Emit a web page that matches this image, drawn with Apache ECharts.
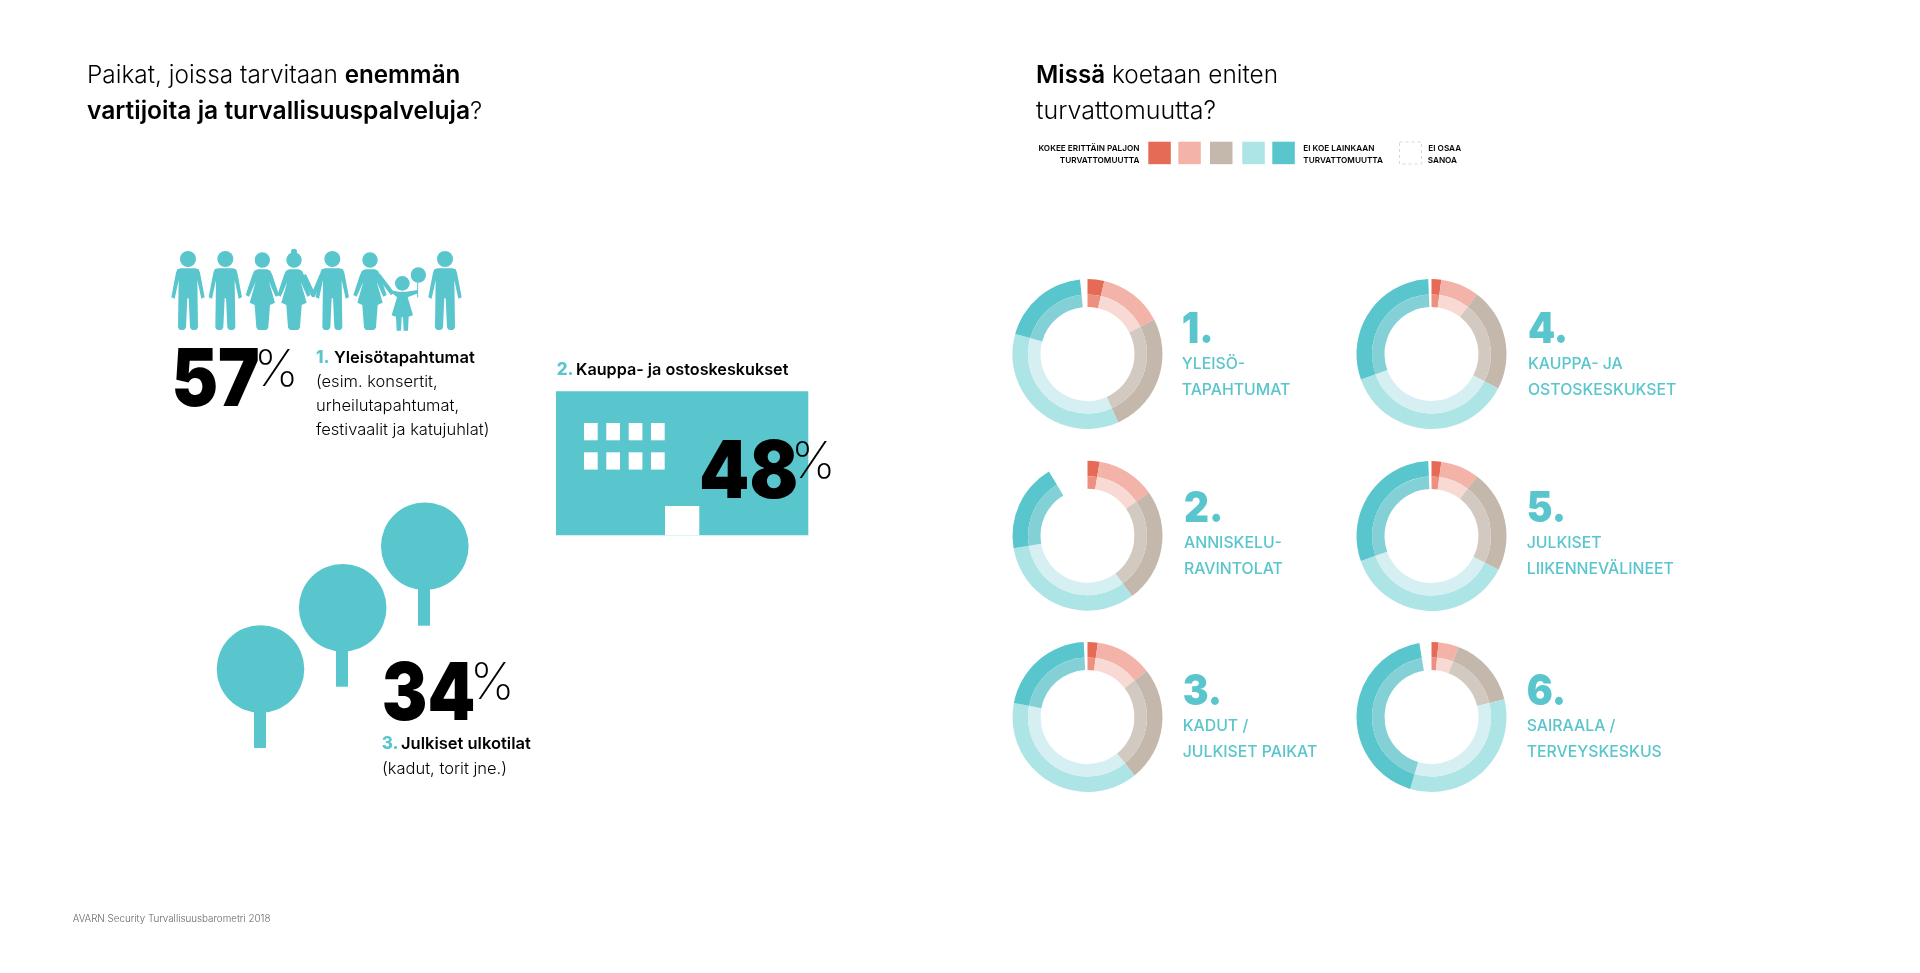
<!DOCTYPE html>
<html>
<head>
<meta charset="utf-8">
<title>Turvallisuusbarometri</title>
<script src="https://cdn.jsdelivr.net/npm/echarts@6/dist/echarts.min.js"></script>
<style>
  html, body { margin: 0; padding: 0; background: #fff; }
  #main { width: 1920px; height: 973px; }
</style>
</head>
<body>
<div id="main"></div>
<script>
// answer scale, from "very much" to "not at all", last one is "ei osaa sanoa"
const levels = ["Kokee erittäin paljon", "Paljon", "Jonkin verran", "Vähän", "Ei lainkaan", "Ei osaa sanoa"];
const outerColors = ["#e66b56", "#f4b3a8", "#c3b8ab", "#ade4e5", "#59c5cc", "rgba(0,0,0,0)"];
const innerColors = ["#ee9080", "#f8d9d3", "#d2c9c0", "#d5eff2", "#83d1d7", "rgba(0,0,0,0)"];

const yleiso = [3.6, 13.8, 25.9, 36.0, 19.1, 1.6];
const anniskelu = [2.6, 12.7, 24.6, 32.4, 19.1, 8.6];
const kadut = [2.2, 12.3, 24.7, 38.8, 21.2, 0.8];
const kauppa = [2.1, 8.3, 22.2, 36.9, 29.8, 0.7];
const liikenne = [2.1, 8.3, 22.0, 37.2, 29.7, 0.7];
const sairaala = [1.5, 4.4, 15.3, 33.4, 42.8, 2.6];

const placeShares = [57, 48, 34];

const teal = "#59c5cc";
const fontName = "Inter";

let chart = echarts.init(document.getElementById("main"));
let graphic = [];

function addText(x, y, text, size, weight, color, align, scaleX) {
  graphic.push({
    type: "text",
    x: x,
    y: y,
    scaleX: scaleX || 1,
    silent: true,
    style: {
      text: text,
      fill: color || "#000",
      font: (weight || 300) + " " + size + "px " + fontName,
      textAlign: align || "left",
      textVerticalAlign: "bottom"
    }
  });
}

function addRich(x, y, text) {
  graphic.push({
    type: "text", x: x, y: y, silent: true,
    style: {
      text: text,
      rich: {
        n: { font: "300 24.4px " + fontName, fill: "#000" },
        n2: { font: "300 25px " + fontName, fill: "#000" },
        b: { font: "600 24.2px " + fontName, fill: "#000" },
        b2: { font: "600 24.6px " + fontName, fill: "#000" }
      },
      textVerticalAlign: "bottom"
    }
  });
}

function addRect(x, y, w, h, color) {
  graphic.push({ type: "rect", silent: true, shape: { x: x, y: y, width: w, height: h }, style: { fill: color } });
}

function addCircle(cx, cy, r, color) {
  graphic.push({ type: "circle", silent: true, shape: { cx: cx, cy: cy, r: r }, style: { fill: color } });
}

// donut = two pies with same values, inner ring paler
function donut(values, cx, cy) {
  let series = [];
  [[59.5, 75, outerColors], [47, 59.5, innerColors]].forEach(function (ring) {
    series.push({
      type: "pie",
      silent: true,
      animation: false,
      center: [cx, cy],
      radius: [ring[0], ring[1]],
      startAngle: 90,
      clockwise: true,
      label: { show: false },
      labelLine: { show: false },
      emphasis: { disabled: true },
      data: values.map(function (v, i) {
        return { name: levels[i], value: v, itemStyle: { color: ring[2][i] } };
      })
    });
  });
  return series;
}

let series = [].concat(
  donut(yleiso, 1087.5, 354),
  donut(anniskelu, 1087.5, 535.7),
  donut(kadut, 1087.5, 717),
  donut(kauppa, 1431.5, 354),
  donut(liikenne, 1431.5, 536),
  donut(sairaala, 1431.5, 717)
);

// titles
addRich(87, 88, "{n|Paikat, joissa tarvitaan }{b|enemmän}");
addRich(87, 124, "{b2|vartijoita ja turvallisuuspalveluja}{n|?}");
addRich(1036, 88, "{b|Missä}{n| koetaan eniten}");
addRich(1036, 124, "{n2|turvattomuutta?}");

// legend
addText(1139.5, 153, "KOKEE ERITTÄIN PALJON", 8.2, 600, "#000", "right");
addText(1139.5, 165, "TURVATTOMUUTTA", 8.2, 600, "#000", "right");
[1148.3, 1178.3, 1210, 1242.3, 1272.3].forEach(function (x, i) {
  addRect(x, 141.7, 22.5, 22.5, outerColors[i]);
});
addText(1303.3, 153, "EI KOE LAINKAAN", 8.2, 600);
addText(1303.3, 165, "TURVATTOMUUTTA", 8.2, 600);
graphic.push({
  type: "rect", silent: true,
  shape: { x: 1399.5, y: 142, width: 22, height: 22 },
  style: { fill: "none", stroke: "#d8d8d8", lineWidth: 1, lineDash: [3, 3] }
});
addText(1428.3, 153, "EI OSAA", 8.2, 600);
addText(1427.7, 165, "SANOA", 8.2, 600);

// donut labels
[
  [1181.7, 343, "1.", "YLEISÖ-", "TAPAHTUMAT"],
  [1184, 522, "2.", "ANNISKELU-", "RAVINTOLAT"],
  [1182.7, 705, "3.", "KADUT /", "JULKISET PAIKAT"],
  [1528, 343, "4.", "KAUPPA- JA", "OSTOSKESKUKSET"],
  [1526.7, 522, "5.", "JULKISET", "LIIKENNEVÄLINEET"],
  [1526.7, 705, "6.", "SAIRAALA /", "TERVEYSKESKUS"]
].forEach(function (d) {
  addText(d[0], d[1] + 8, d[2], 42, 900, teal, "left", 0.92);
  addText(d[0], d[1] + 29, d[3], 15.8, 500, teal);
  addText(d[0], d[1] + 55, d[4], 15.8, 500, teal);
});

// people pictogram, points in 3x coordinates of the people strip
function shift(c, pts) {
  return pts.map(function (p) { return [c + p[0], p[1]]; });
}
const manShape = [[-22,85],[22,85],[32,88],[36,98],[50,172],[40,176],[28,120],[30,262],[27,268],[22,270],[14,270],[9,268],[6,262],[2,175],[-2,175],[-6,262],[-9,268],[-14,270],[-22,270],[-27,268],[-30,262],[-28,120],[-40,176],[-50,172],[-36,98],[-32,88]];
const womanShape = [[-14,88],[14,88],[24,92],[30,105],[50,165],[40,170],[20,125],[38,188],[23,195],[18,262],[15,268],[10,270],[-10,270],[-15,268],[-18,262],[-23,195],[-38,188],[-20,125],[-40,170],[-50,165],[-30,105],[-24,92]];
const childShape = [[-12,155],[12,155],[46,150],[47,160],[16,172],[32,226],[19,230],[17,272],[4,272],[2,232],[-2,232],[-4,272],[-17,272],[-19,230],[-32,226],[-16,172],[-30,160],[-38,150]];
let people = [];
function head(cx, cy, r) {
  people.push({ type: "circle", silent: true, shape: { cx: cx, cy: cy, r: r }, style: { fill: teal } });
}
function body(c, pts) {
  people.push({ type: "polygon", silent: true, shape: { points: shift(c, pts) }, style: { fill: teal } });
}
function arm(points) {
  people.push({ type: "polyline", silent: true, shape: { points: points }, style: { fill: "none", stroke: teal, lineWidth: 13, lineJoin: "round" } });
}
[114, 226, 547, 885].forEach(function (c) {
  head(c, 57, 24);
  body(c, manShape);
});
[337, 432, 660].forEach(function (c) {
  head(c, 60, 23);
  body(c, womanShape);
});
head(432, 35, 9);
// held hands, and the arm towards the child
arm([[462, 105], [490, 165], [515, 105]]);
arm([[685, 105], [728, 162]]);
head(757, 130, 22);
body(757, childShape);
head(805, 105, 23);
people.push({ type: "line", silent: true, shape: { x1: 803, y1: 128, x2: 803, y2: 172 }, style: { stroke: teal, lineWidth: 3 } });
graphic.push({ type: "group", x: 150, y: 240, scaleX: 1 / 3, scaleY: 1 / 3, silent: true, children: people });

// 1. yleisotapahtumat
addText(171.4, 422, String(placeShares[0]), 80, 900, "#000", "left", 0.875);
addText(254, 396, "%", 50, 200);
addText(316, 366.6, "1.", 17, 800, teal);
addText(334, 366.6, "Yleisötapahtumat", 16.5, 600);
addText(316, 391, "(esim. konsertit,", 16.5, 300);
addText(316, 415, "urheilutapahtumat,", 16.5, 300);
addText(316, 439, "festivaalit ja katujuhlat)", 16.5, 300);

// 2. building
addText(556.7, 378.5, "2.", 17, 800, teal);
addText(576, 378.5, "Kauppa- ja ostoskeskukset", 16.2, 600);
addRect(556, 391.3, 252.3, 144, teal);
addRect(665, 506, 34.3, 29.3, "#fff");
[584, 606.3, 628.7, 651].forEach(function (x) {
  addRect(x, 423, 13.7, 17.3, "#fff");
  addRect(x, 452.3, 13.7, 17.3, "#fff");
});
addText(699, 513.5, String(placeShares[1]), 80, 900, "#000", "left", 0.897);
addText(791, 487.5, "%", 50, 200);

// 3. trees
[[260.5, 669, 254, 748], [342.7, 607.7, 336, 686.7], [424.8, 546.3, 418, 625.7]].forEach(function (t) {
  addRect(t[2], t[1], 12, t[3] - t[1], teal);
  addCircle(t[0], t[1], 43.8, teal);
});
addText(381.8, 736, String(placeShares[2]), 80, 900, "#000", "left", 0.853);
addText(470, 709, "%", 50, 200);
addText(381.7, 752.6, "3.", 17, 800, teal);
addText(401, 752.6, "Julkiset ulkotilat", 16.5, 600);
addText(382, 777.6, "(kadut, torit jne.)", 16.5, 300);

// source
addText(72.7, 924, "AVARN Security Turvallisuusbarometri 2018", 9.8, 300, "#666");

chart.setOption({
  animation: false,
  backgroundColor: "#fff",
  tooltip: { show: false },
  series: series,
  graphic: { elements: graphic }
});
</script>
</body>
</html>
